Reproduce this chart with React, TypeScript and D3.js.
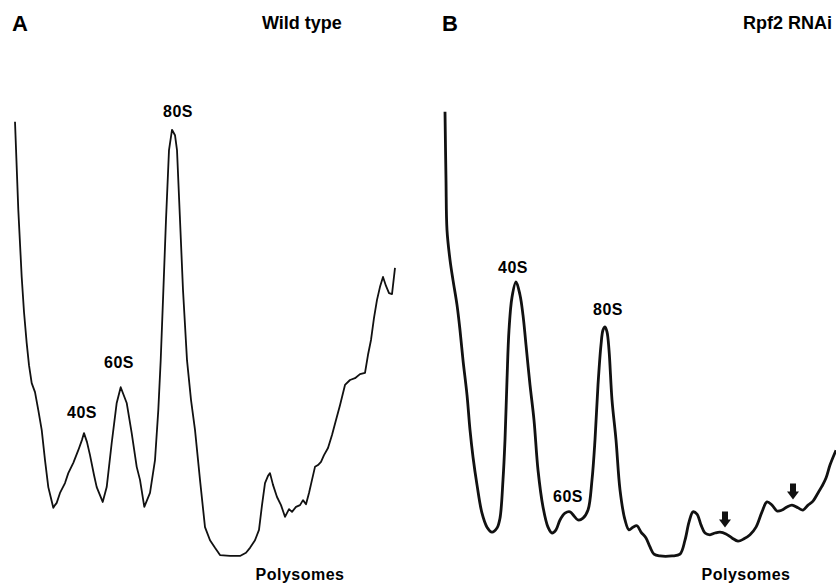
import React, { useEffect, useRef } from "react";
import * as d3 from "d3";

// gradient fraction (top -> bottom) and A254 absorbance, wild type
const wtFraction = [0, 0.66, 1.34, 1.8, 2.34, 2.8, 3.34, 4, 4.66, 5.34, 6, 6.66, 7.14, 7.66, 8, 8.34, 9, 10, 10.66, 11.66, 12.66, 13.4, 13.8, 14.4, 15, 15.8, 16.34, 17.54, 18.34, 19.34, 20.34, 21.14, 22.34, 23.34, 24.34, 25, 25.86, 27, 28, 28.66, 29.14, 29.6, 30.2, 30.8, 31.4, 32, 32.4, 33, 33.6, 34.4, 35.2, 36, 37, 38, 39, 40, 41, 43, 45, 46.2, 47, 48, 48.8, 49.4, 50, 50.6, 51, 51.6, 52.4, 53.2, 54, 54.8, 55.4, 56.2, 57, 57.6, 58.2, 58.8, 59.4, 60, 60.6, 61.2, 61.8, 62.6, 63.4, 64.2, 65, 66, 67, 68, 69, 70, 70.6, 71.2, 71.8, 72.4, 73, 73.6, 74.2, 74.8, 75.4, 76];
const wtAbsorbance = [97.4, 77.8, 62.9, 55.1, 48.2, 43.3, 39.3, 37.3, 33.3, 28.9, 22.2, 16.2, 14, 11.6, 12.2, 12.7, 14.9, 17.1, 19.3, 21.6, 24.4, 26.7, 28.2, 26.2, 23.3, 18.9, 16.2, 12.9, 16.2, 26, 34.9, 38.4, 34.9, 28.2, 20.7, 17.8, 11.8, 14.9, 22.2, 33.3, 44.4, 57.8, 75.6, 91.1, 95.6, 94.4, 91.1, 75.6, 60, 44.4, 35.6, 28.9, 17.8, 7.3, 4.4, 2.7, 1.1, 0.9, 0.9, 1.6, 2.7, 4.4, 6.7, 12.2, 17.1, 18.7, 19.3, 16.7, 14, 12.2, 9.6, 11.3, 10.7, 11.8, 12.2, 13.3, 12.4, 14.9, 17.8, 20.7, 21.1, 21.8, 23.3, 24.9, 27.8, 31.1, 34.4, 38.9, 40, 40.4, 41.3, 41.6, 45.6, 48.9, 53.8, 57.8, 60.7, 62.9, 60.9, 59.3, 59.1, 64.9];

// Rpf2 RNAi
const rnaiFraction = [0, 0.2, 0.4, 1, 1.6, 2.4, 3, 3.6, 4.4, 5, 5.6, 6.4, 7.4, 8.4, 9.4, 10.4, 11, 11.6, 12, 12.4, 12.8, 13.4, 14.2, 15, 15.6, 16.2, 17, 17.8, 18.6, 19.6, 20.6, 21.4, 22.2, 23, 24, 25, 25.8, 26.6, 27.6, 28.6, 29.4, 30, 30.6, 31.2, 31.6, 32, 32.4, 32.8, 33.4, 34.2, 35, 36, 36.8, 37.6, 38.4, 39.2, 40.2, 41, 41.8, 43, 45.4, 47, 48, 48.8, 49.6, 50.4, 51.2, 52, 53, 54, 55, 56.2, 57.4, 58.6, 59.8, 61, 62.2, 63.4, 64.4, 65.4, 66.4, 67.4, 68.4, 69.4, 70.6, 71.6, 72.6, 73.6, 74.6, 75.4, 76.2, 77, 78.2];
const rnaiAbsorbance = [99.6, 84.4, 73.3, 66.7, 62.2, 56.7, 51.1, 44.4, 36.7, 28.9, 22.9, 16.7, 10.4, 7.3, 6.2, 7.1, 9.3, 17.8, 26.7, 40, 51.1, 58.4, 61.8, 58.9, 54.4, 47.8, 38.9, 31.1, 20, 11.8, 7.3, 6, 6.7, 8.9, 10.4, 10.7, 9.8, 8.9, 9.3, 11.1, 17.8, 26.7, 38.9, 47.8, 51.1, 51.8, 50.7, 46.7, 35.6, 26.7, 15.6, 8.9, 6.7, 7.3, 7.6, 6.2, 4.9, 2.9, 1.3, 0.9, 0.9, 1.3, 4.4, 8.4, 10.7, 10.2, 7.8, 6, 5.6, 6, 6.2, 5.8, 4.9, 4.2, 4.7, 5.6, 7.3, 10.7, 12.9, 12.2, 10.9, 11.1, 11.8, 12.2, 11.6, 11.1, 12.2, 13.1, 14.9, 16.4, 18.2, 21.1, 24.4];

// peak labels: text, fraction, absorbance where the label sits
const wtLabels = ["40S", "60S", "80S", "Polysomes"];
const wtLabelFraction = [13.4, 20.8, 32.6, 57];
const wtLabelAbs = [31.6, 42.7, 98.4, -4.4];
const rnaiLabels = ["40S", "60S", "80S", "Polysomes"];
const rnaiLabelFraction = [13.6, 24.6, 32.6, 60.2];
const rnaiLabelAbs = [63.8, 12.9, 54.4, -4.4];

// arrows marking polysome shoulders in the RNAi profile
const rnaiArrowFraction = [56, 69.6];

const FONT = "'Liberation Sans', Arial, sans-serif";

function App() {
  const ref = useRef<SVGSVGElement>(null);

  useEffect(() => {
    const w = 836;
    const h = 584;
    const svg = d3.select(ref.current);
    svg.selectAll("*").remove();
    svg.attr("width", w).attr("height", h);

    const y = d3.scaleLinear().domain([0, 100]).range([560, 110]);

    const panels = [
      {
        letter: "A", title: "Wild type", left: 15, letterX: 12, titleX: 262,
        xs: wtFraction, ys: wtAbsorbance, width: 1.8, curve: d3.curveLinear,
        labels: wtLabels, lx: wtLabelFraction, ly: wtLabelAbs, arrows: [] as number[],
      },
      {
        letter: "B", title: "Rpf2 RNAi", left: 445, letterX: 442, titleX: 743,
        xs: rnaiFraction, ys: rnaiAbsorbance, width: 2.8, curve: d3.curveCatmullRom.alpha(0.5),
        labels: rnaiLabels, lx: rnaiLabelFraction, ly: rnaiLabelAbs, arrows: rnaiArrowFraction,
      },
    ];

    panels.forEach((p) => {
      const x = d3.scaleLinear().domain([0, 80]).range([p.left, p.left + 400]);
      const g = svg.append("g");

      g.append("text")
        .attr("x", p.letterX).attr("y", 31)
        .attr("font-family", FONT).attr("font-weight", "bold").attr("font-size", 22)
        .text(p.letter);
      g.append("text")
        .attr("x", p.titleX).attr("y", 29)
        .attr("font-family", FONT).attr("font-weight", "bold").attr("font-size", 18)
        .text(p.title);

      const pts = p.xs.map((d, i) => [d, p.ys[i]] as [number, number]);
      const line = d3.line<[number, number]>()
        .x((d) => x(d[0]))
        .y((d) => y(d[1]))
        .curve(p.curve);

      g.append("path")
        .attr("d", line(pts))
        .attr("fill", "none")
        .attr("stroke", "#111")
        .attr("stroke-width", p.width)
        .attr("stroke-linejoin", "round");

      g.selectAll("text.peak")
        .data(p.labels)
        .enter()
        .append("text")
        .attr("class", "peak")
        .attr("x", (d, i) => x(p.lx[i]))
        .attr("y", (d, i) => y(p.ly[i]))
        .attr("text-anchor", "middle")
        .attr("font-family", FONT).attr("font-weight", "bold").attr("font-size", 16)
        .attr("letter-spacing", 0.5)
        .text((d) => d);

      // down arrows sit just above the trace
      const bis = d3.bisector((d: number) => d).left;
      p.arrows.forEach((a) => {
        const i = Math.max(1, bis(p.xs, a));
        const t = (a - p.xs[i - 1]) / (p.xs[i] - p.xs[i - 1]);
        const v = p.ys[i - 1] + t * (p.ys[i] - p.ys[i - 1]);
        const ax = x(a);
        const tip = y(v) - 6;
        g.append("path")
          .attr("d", `M${ax - 3},${tip - 16}H${ax + 3}V${tip - 8}H${ax + 6}L${ax},${tip}L${ax - 6},${tip - 8}H${ax - 3}Z`)
          .attr("fill", "#111");
      });
    });
  }, []);

  return <svg ref={ref} style={{ position: "absolute", left: 0, top: 0, background: "#fff" }} />;
}

export default App;
